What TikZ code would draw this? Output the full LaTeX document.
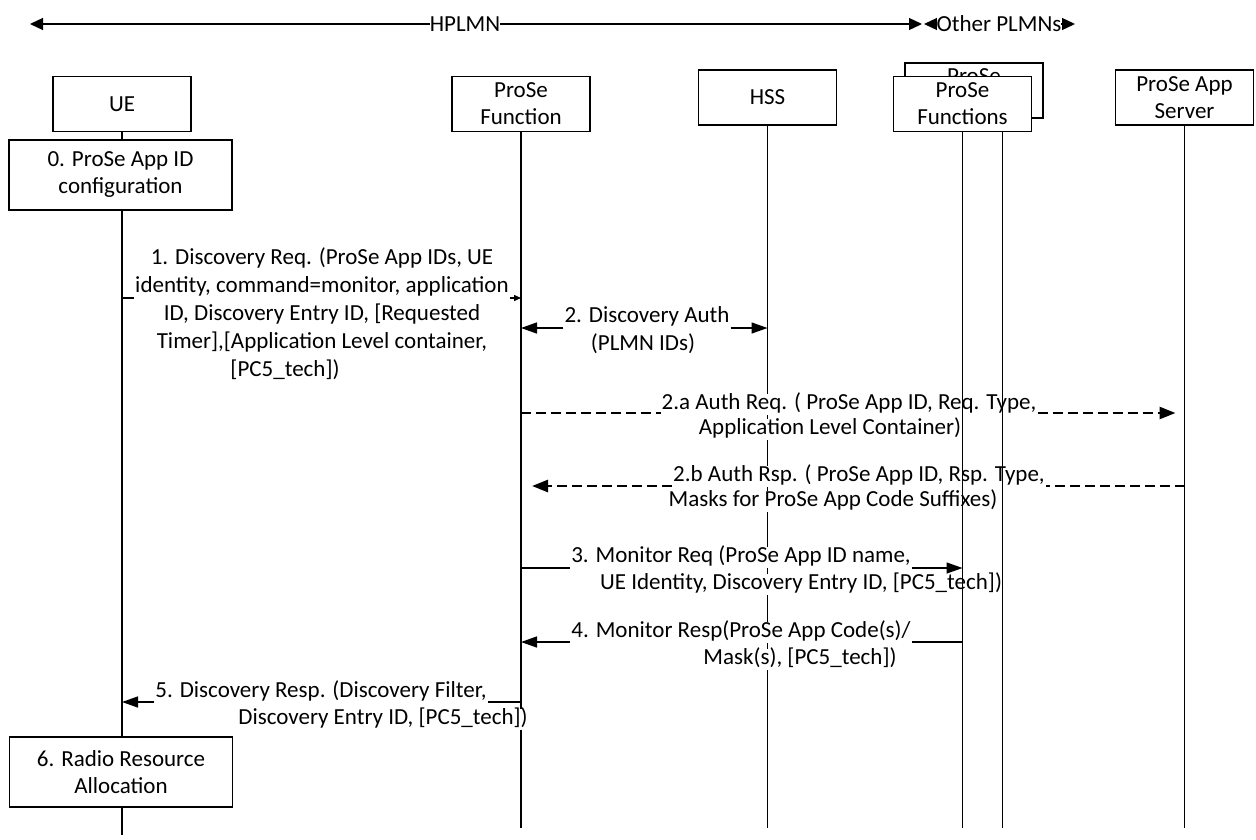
\documentclass[tikz,border=0pt]{standalone}
\usepackage{fontspec}
\setmainfont{Carlito}
\usetikzlibrary{arrows.meta}
\begin{document}
\begin{tikzpicture}[x=1pt,y=-1pt,
  every node/.style={font=\fontsize{23}{27}\selectfont},
  hdr/.style={draw, line width=1.3pt, fill=white, align=center, inner sep=0pt, minimum width=138pt, minimum height=55pt},
  stepbox/.style={draw, line width=1.3pt, fill=white, align=center, inner sep=0pt, minimum width=223pt, minimum height=70pt},
  txt/.style={fill=white, inner xsep=1pt, inner ysep=0pt, text height=16pt, text depth=5pt},
  life/.style={line width=1.2pt},
  msgline/.style={line width=1.4pt},
  tip/.style={-{Triangle[length=16pt,width=11pt]}},
  smalltip/.style={-{Triangle[length=7pt,width=6pt]}},
  dashline/.style={line width=2.6pt, dash pattern=on 10pt off 5pt},
  dashtip/.style={-{Triangle[length=16pt,width=12pt]}},
  plmn/.style={line width=1.3pt, {Triangle[length=13pt,width=12pt]}-{Triangle[length=13pt,width=12pt]}}
]
\useasboundingbox (0,0) rectangle (1256,839);

% PLMN ranges
\coordinate (hl) at (30,24);
\coordinate (hr) at (922,24);
\coordinate (ol) at (924,24);
\coordinate (or) at (1075,24);
\draw[plmn] (hl) -- (hr);
\draw[plmn] (ol) -- (or);
\node[txt, inner xsep=0pt] (hplmn) at (465,26) {HPLMN};
\node[txt, inner xsep=0pt] (oplmn) at (999,26) {Other PLMNs};

% header boxes
\node[hdr] (ue) at (122,104) {UE};
\node[hdr] (pf) at (521,104) {ProSe\\Function};
\node[hdr] (hss) at (767.5,97.5) {HSS};
\node[hdr] (pfsb) at (974,90.5) {};
\node[inner sep=0pt, text height=16pt, text depth=5pt] (pfsbt) at (974,78) {ProSe};
\node[hdr] (pfs) at (962.5,104) {ProSe\\Functions};
\node[hdr] (as) at (1184.5,97.5) {ProSe App\\Server};

\node[stepbox] (b0) at (120.5,175) {0. ProSe App ID\\configuration};
\node[stepbox] (b6) at (121,772) {6. Radio Resource\\Allocation};

% lifelines
\coordinate (ueend) at (122,835);
\coordinate (end) at (0,828);
\coordinate (pfs2) at (1002.5,131);
\draw[life] (ue.south) -- (ue.south |- b0.north);
\draw[life] (ue.south |- b0.south) -- (ue.south |- b6.north);
\draw[life] (ue.south |- b6.south) -- (ueend);
\draw[life] (pf.south) -- (pf.south |- end);
\draw[life] (hss.south) -- (hss.south |- end);
\draw[life] (as.south) -- (as.south |- end);

% message 1
\node[txt] (m1a) at (322,259) {1. Discovery Req. (ProSe App IDs, UE};
\node[txt] (m1b) at (322,287) {identity, command=monitor, application};
\node[txt] (m1c) at (322,315) {ID, Discovery Entry ID, [Requested};
\node[txt] (m1d) at (322,343) {Timer],[Application Level container,};
\node[txt] (m1e) at (285,371) {[PC5\_tech])};
\coordinate (y1) at (0,298);
\draw[msgline] (ue.south |- y1) -- (m1b.west |- y1);
\draw[msgline, smalltip] (m1b.east |- y1) -- (pf.south |- y1);

% message 2
\node[txt] (m2a) at (647,317) {2. Discovery Auth};
\node[txt] (m2b) at (643,345) {(PLMN IDs)};
\coordinate (y2) at (0,328);
\draw[msgline, tip] (m2a.west |- y2) -- (pf.south |- y2);
\draw[msgline, tip] (m2a.east |- y2) -- (hss.south |- y2);

% message 2a
\node[txt] (m2aa) at (849,404) {2.a Auth Req. ( ProSe App ID, Req. Type,};
\node[txt] (m2ab) at (830,429) {Application Level Container)};
\coordinate (y2a) at (0,413);
\draw[dashline] (pf.south |- y2a) -- (m2aa.west |- y2a);
\draw[dashline, dashtip, shorten >=9pt] (m2aa.east |- y2a) -- (as.south |- y2a);

% message 2b
\node[txt] (m2ba) at (859,476) {2.b Auth Rsp. ( ProSe App ID, Rsp. Type,};
\node[txt] (m2bb) at (833,501) {Masks for ProSe App Code Suffixes)};
\coordinate (y2b) at (0,486);
\draw[dashline] (as.south |- y2b) -- (m2ba.east |- y2b);
\draw[dashline, dashtip, shorten >=11pt] (m2ba.west |- y2b) -- (pf.south |- y2b);

% message 3
\node[txt] (m3a) at (741,557) {3. Monitor Req (ProSe App ID name,};
\node[txt] (m3b) at (801,584) {UE Identity, Discovery Entry ID, [PC5\_tech])};
\coordinate (y3) at (0,568);
\draw[msgline] (pf.south |- y3) -- (m3a.west |- y3);

% message 4
\node[txt] (m4a) at (741,632) {4. Monitor Resp(ProSe App Code(s)/};
\node[txt] (m4b) at (800,659) {Mask(s), [PC5\_tech])};
\coordinate (y4) at (0,642);
\draw[msgline, tip] (m4a.west |- y4) -- (pf.south |- y4);

% ProSe Functions lifelines (drawn over the message texts, as in the reference)
\draw[life] (pfs.south) -- (pfs.south |- end);
\draw[life] (pfs2) -- (pfs2 |- end);
\draw[msgline, tip] (m3a.east |- y3) -- (pfs.south |- y3);
\draw[msgline] (pfs.south |- y4) -- (m4a.east |- y4);

% message 5
\node[txt] (m5a) at (321,692) {5. Discovery Resp. (Discovery Filter,};
\node[txt] (m5b) at (383,719) {Discovery Entry ID, [PC5\_tech])};
\coordinate (y5) at (0,702);
\draw[msgline] (pf.south |- y5) -- (m5a.east |- y5);
\draw[msgline, tip] (m5a.west |- y5) -- (ue.south |- y5);
\end{tikzpicture}
\end{document}
